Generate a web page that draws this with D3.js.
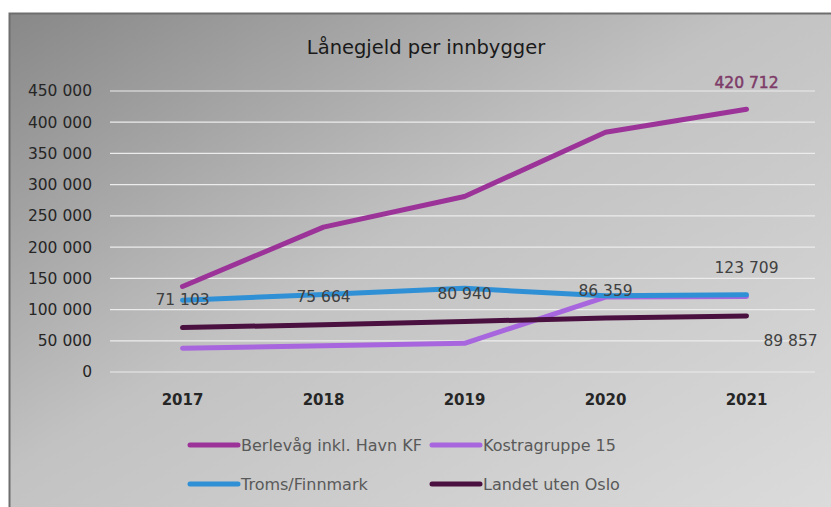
<!DOCTYPE html>
<html>
<head>
<meta charset="utf-8">
<script src="https://cdn.jsdelivr.net/npm/d3@7"></script>
<style>
  body { margin: 0; background: #fff; }
  text { font-family: "DejaVu Sans", sans-serif; }
</style>
</head>
<body>
<div id="chart"></div>
<script>
var years = ["2017", "2018", "2019", "2020", "2021"];
var berlevag = [137000, 232000, 281000, 384000, 420712];
var kostra = [38000, 42000, 46000, 120000, 121000];
var troms = [115000, 124000, 134000, 122000, 123709];
var landet = [71103, 75664, 80940, 86359, 89857];
var yTicks = [0, 50000, 100000, 150000, 200000, 250000, 300000, 350000, 400000, 450000];

var series = [
    {name: "Berlevåg inkl. Havn KF", values: berlevag, color: "#9b3398"},
    {name: "Kostragruppe 15", values: kostra, color: "#a866de"},
    {name: "Troms/Finnmark", values: troms, color: "#2f90d6"},
    {name: "Landet uten Oslo", values: landet, color: "#4a103f"}
];

var width = 831, height = 507;

var svg = d3.select("#chart")
            .append("svg")
            .attr("width", width)
            .attr("height", height);

var grad = svg.append("defs").append("linearGradient")
              .attr("id", "bg")
              .attr("x1", "0%").attr("y1", "0%")
              .attr("x2", "100%").attr("y2", "100%");
grad.append("stop").attr("offset", "0%").attr("stop-color", "#888888");
grad.append("stop").attr("offset", "45%").attr("stop-color", "#c2c2c2");
grad.append("stop").attr("offset", "100%").attr("stop-color", "#dcdcdc");

svg.append("rect")
   .attr("x", 9.5).attr("y", 13.5)
   .attr("width", 830).attr("height", 510)
   .attr("fill", "url(#bg)")
   .attr("stroke", "#6e6e6e")
   .attr("stroke-width", 2);

var x = d3.scaleBand().domain(years).range([112, 817]);
var y = d3.scaleLinear().domain([0, 450000]).range([372, 91]);

function xc(d) { return x(d) + x.bandwidth() / 2; }

// gridlines
svg.append("g").selectAll("line")
   .data(yTicks)
   .enter().append("line")
   .attr("x1", 110).attr("x2", 815)
   .attr("y1", function(d) { return y(d); })
   .attr("y2", function(d) { return y(d); })
   .attr("stroke", "#ececec")
   .attr("stroke-width", 1.2);

var fmt = function(v) { return d3.format(",")(v).replace(/,/g, " "); };

// y axis
var yAxis = svg.append("g")
   .attr("transform", "translate(92,0)")
   .call(d3.axisLeft(y).tickValues(yTicks).tickSize(0).tickPadding(0).tickFormat(fmt));
yAxis.select(".domain").remove();
yAxis.selectAll("text")
   .attr("font-size", 15.5)
   .attr("fill", "#262626")
   .style("font-family", "'DejaVu Sans', sans-serif");

// x axis
var xAxis = svg.append("g")
   .attr("transform", "translate(0,394)")
   .call(d3.axisBottom(x).tickSize(0).tickPadding(0));
xAxis.select(".domain").remove();
xAxis.selectAll("text")
   .attr("font-size", 15)
   .attr("font-weight", "bold")
   .attr("fill", "#262626")
   .style("font-family", "'DejaVu Sans', sans-serif");

// title
svg.append("text")
   .attr("x", 426).attr("y", 54)
   .attr("text-anchor", "middle")
   .attr("font-size", 19.5)
   .attr("fill", "#1a1a1a")
   .text("Lånegjeld per innbygger");

// lines
var line = d3.line()
   .x(function(d, i) { return xc(years[i]); })
   .y(function(d) { return y(d); });

svg.append("g").selectAll("path")
   .data(series)
   .enter().append("path")
   .attr("d", function(d) { return line(d.values); })
   .attr("fill", "none")
   .attr("stroke", function(d) { return d.color; })
   .attr("stroke-width", 5)
   .attr("stroke-linejoin", "round")
   .attr("stroke-linecap", "round");

// data labels for Landet uten Oslo (placed as in the original)
var labelOffsets = [[0, -23], [0, -23], [0, -22], [0, -22], [44, 30]];
svg.append("g").selectAll("text")
   .data(landet)
   .enter().append("text")
   .attr("x", function(d, i) { return xc(years[i]) + labelOffsets[i][0]; })
   .attr("y", function(d, i) { return y(d) + labelOffsets[i][1]; })
   .attr("text-anchor", "middle")
   .attr("font-size", 15.5)
   .attr("fill", "#404040")
   .text(fmt);

// end labels
svg.append("text")
   .attr("x", xc("2021")).attr("y", y(troms[4]) - 22)
   .attr("text-anchor", "middle")
   .attr("font-size", 15.5)
   .attr("fill", "#404040")
   .text(fmt(troms[4]));

svg.append("text")
   .attr("x", xc("2021")).attr("y", y(berlevag[4]) - 21)
   .attr("text-anchor", "middle")
   .attr("font-size", 15.5)
   .attr("fill", "#7e3a68")
   .attr("stroke", "#7e3a68")
   .attr("stroke-width", 0.5)
   .text(fmt(berlevag[4]));

// legend
var legPos = [[190, 445], [432, 445], [190, 484], [432, 484]];
var leg = svg.append("g").selectAll("g")
   .data(series)
   .enter().append("g")
   .attr("transform", function(d, i) { return "translate(" + legPos[i][0] + "," + legPos[i][1] + ")"; });
leg.append("line")
   .attr("x1", 0).attr("x2", 48)
   .attr("stroke", function(d) { return d.color; })
   .attr("stroke-width", 5)
   .attr("stroke-linecap", "round");
leg.append("text")
   .attr("x", 51).attr("y", 6)
   .attr("font-size", 16)
   .attr("fill", "#595959")
   .text(function(d) { return d.name; });
</script>
</body>
</html>
